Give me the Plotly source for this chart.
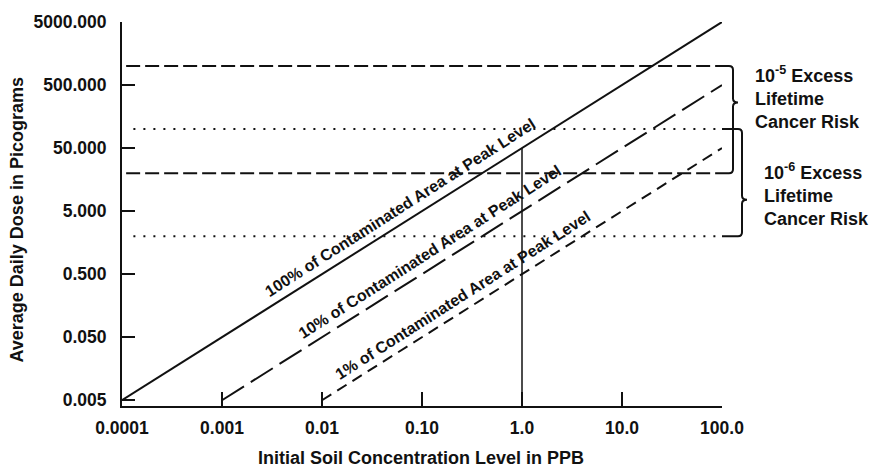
import math
import plotly.graph_objects as go

# ---------------- data ----------------
x_tick_vals = [0.0001, 0.001, 0.01, 0.1, 1.0, 10.0, 100.0]
x_tick_text = ["0.0001", "0.001", "0.01", "0.10", "1.0", "10.0", "100.0"]
y_tick_vals = [0.005, 0.05, 0.5, 5, 50, 500, 5000]
y_tick_text = ["0.005", "0.050", "0.500", "5.000", "50.000", "500.000", "5000.000"]

area_labels = [
    "100% of Contaminated Area at Peak Level",
    "10% of Contaminated Area at Peak Level",
    "1% of Contaminated Area at Peak Level",
]
area_x = [[0.0001, 100.0], [0.001, 100.0], [0.01, 100.0]]
area_y = [[0.005, 5000.0], [0.005, 500.0], [0.005, 50.0]]
area_dash = ["solid", "26px,8px", "11px,7px"]
label_x = [0.065, 0.13, 0.27]

risk_names = ["10<sup>-5</sup>", "10<sup>-6</sup>"]
risk_upper = [1000.0, 100.0]
risk_lower = [20.0, 2.0]
risk_dash = ["14px,5px", "2px,8px"]
risk_x_start = [0.00011, 0.00013]
risk_tip_frac = [0.34, 0.66]

ref_conc = [1.0, 1.0]
ref_dose = [0.004, 50.0]

# ---------------- geometry ----------------
W, H = 869, 469
ML, MR, MT, MB = 122, 147, 17, 63
PW, PH = W - ML - MR, H - MT - MB
x_range = [-4.0, 2.0]
y_range = [math.log10(0.00405), math.log10(5000.0)]
INK = "#111111"
FONT = "Liberation Sans, Arial, Helvetica, sans-serif"
TICK_SIZE = 17.5

fig = go.Figure()

for xs, ys, dash in zip(area_x, area_y, area_dash):
    fig.add_trace(go.Scatter(x=xs, y=ys, mode="lines",
                             line=dict(color=INK, width=2, dash=dash),
                             hoverinfo="skip", showlegend=False))

for up, lo, dash, xs in zip(risk_upper, risk_lower, risk_dash, risk_x_start):
    for v in (up, lo):
        fig.add_trace(go.Scatter(x=[xs, 100.0], y=[v, v], mode="lines",
                                 line=dict(color=INK, width=2, dash=dash),
                                 hoverinfo="skip", showlegend=False))

fig.add_trace(go.Scatter(x=ref_conc, y=ref_dose, mode="lines",
                         line=dict(color=INK, width=1.5),
                         hoverinfo="skip", showlegend=False))

# ---------------- annotations ----------------
ann = []
angle = -math.degrees(math.atan((PH / (y_range[1] - y_range[0])) / (PW / (x_range[1] - x_range[0]))))
for text, xs, ys, lx in zip(area_labels, area_x, area_y, label_x):
    lx0, lx1 = math.log10(xs[0]), math.log10(xs[1])
    ly0, ly1 = math.log10(ys[0]), math.log10(ys[1])
    t = (math.log10(lx) - lx0) / (lx1 - lx0)
    ly = ly0 + t * (ly1 - ly0)
    ann.append(dict(x=math.log10(lx), y=ly, xref="x", yref="y", text=text,
                    showarrow=False, textangle=angle, yshift=15, xshift=-3,
                    font=dict(size=16, color=INK, family=FONT, weight="bold"),
                    xanchor="center", yanchor="middle"))


def ypaper(v):
    return (math.log10(v) - y_range[0]) / (y_range[1] - y_range[0])


def X(d):
    return 1 + d / PW


def Yd(d):
    return d / PH


shapes = []
brace_v = [11, 20]
text_left = [31, 40]
for name, up, lo, frac, v, tl in zip(risk_names, risk_upper, risk_lower,
                                     risk_tip_frac, brace_v, text_left):
    top, bot = ypaper(up), ypaper(lo)
    tip = top - frac * (top - bot)
    r = 4
    tx = v + 5
    path = (f"M {X(0)},{top} L {X(v - r)},{top} Q {X(v)},{top} {X(v)},{top - Yd(r)} "
            f"L {X(v)},{tip + Yd(r)} Q {X(v)},{tip} {X(tx)},{tip} "
            f"Q {X(v)},{tip} {X(v)},{tip - Yd(r)} "
            f"L {X(v)},{bot + Yd(r)} Q {X(v)},{bot} {X(v - r)},{bot} L {X(0)},{bot}")
    shapes.append(dict(type="path", path=path, xref="paper", yref="paper",
                       line=dict(color=INK, width=2)))
    ann.append(dict(x=X(tl), y=tip, xref="paper", yref="paper", yshift=5,
                    text=f"{name} Excess<br>Lifetime<br>Cancer Risk",
                    showarrow=False, xanchor="left", yanchor="middle", align="left",
                    font=dict(size=18, color=INK, family=FONT, weight="bold")))

ann.append(dict(x=-0.175, y=0.483, xref="paper", yref="paper",
                text="Average Daily Dose in Picograms", textangle=-90,
                showarrow=False, xanchor="center", yanchor="middle",
                font=dict(size=18, color=INK, family=FONT, weight="bold")))
ann.append(dict(x=0.498, y=-0.136, xref="paper", yref="paper",
                text="Initial Soil Concentration Level in PPB",
                showarrow=False, xanchor="center", yanchor="middle",
                font=dict(size=18, color=INK, family=FONT, weight="bold")))

fig.update_layout(
    width=W, height=H,
    margin=dict(l=ML, r=MR, t=MT, b=MB),
    paper_bgcolor="white", plot_bgcolor="white",
    font=dict(family=FONT, size=18, color=INK, weight="bold"),
    annotations=ann, shapes=shapes, showlegend=False,
    xaxis=dict(type="log", range=x_range, showgrid=False, zeroline=False,
               showline=True, linecolor=INK, linewidth=2,
               ticks="inside", ticklen=14, tickwidth=2, tickcolor=INK,
               tickvals=x_tick_vals, ticktext=x_tick_text,
               ticklabelstandoff=5,
               tickfont=dict(size=TICK_SIZE, family=FONT, color=INK, weight="bold")),
    yaxis=dict(type="log", range=y_range, showgrid=False, zeroline=False,
               showline=True, linecolor=INK, linewidth=2,
               ticks="inside", ticklen=13, tickwidth=2, tickcolor=INK,
               tickvals=y_tick_vals, ticktext=y_tick_text,
               ticklabelstandoff=10,
               tickfont=dict(size=TICK_SIZE, family=FONT, color=INK, weight="bold")),
)

fig.write_html("out.html")
